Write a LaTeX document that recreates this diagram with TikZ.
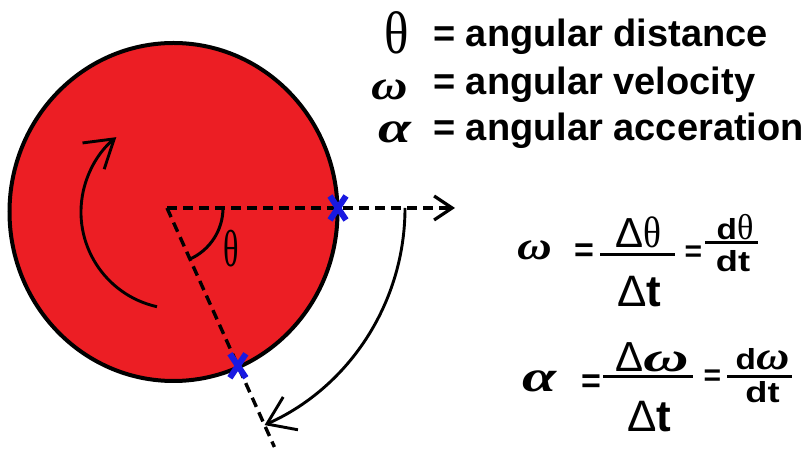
\documentclass[tikz,border=0pt]{standalone}
\usepackage{fontspec}
\setmainfont{Liberation Sans}
\newfontfamily\grk{Liberation Serif}
\usetikzlibrary{arrows.meta}
\definecolor{diskred}{RGB}{236,30,36}
\definecolor{xblue}{RGB}{25,25,225}
\newcommand\fs[1]{\fontsize{#1}{#1}\selectfont}
\newcommand\gth[1]{\scalebox{#1}[1]{\grk\mdseries θ}}
\newcommand\gom[1]{\scalebox{#1}[1]{\grk\bfseries\itshape ω}}
\newcommand\gal[1]{\scalebox{#1}[1]{\grk\bfseries\itshape α}}
\newcommand\Dl{{\mdseries Δ}}
\begin{document}
\begin{tikzpicture}[x=1pt,y=1pt,
  dline/.style={dash pattern=on 10pt off 6pt, line width=3.4pt},
  curv/.style={line width=2.9pt},
  bx/.style={draw=xblue, line width=6pt},
  bar/.style={line width=3pt},
  txt/.style={anchor=base west, inner sep=0pt, font=\fs{38}\bfseries},
  sym/.style={anchor=base, inner sep=0pt},
  eqs/.style={anchor=base, inner sep=0pt, font=\bfseries}
]
\useasboundingbox (0,0) rectangle (811,449);
% disk
\coordinate (C) at (173.5,237);
\fill[diskred, draw=black, line width=4pt] (C) ellipse [x radius=164, y radius=169];
% coordinates
\coordinate (O) at (167,241);
\coordinate (X1) at (338,241);
\coordinate (X2) at (237.9,83.2);
\coordinate (H) at (455,241);
\coordinate (S) at (274.4,2);
\coordinate (A0) at (405,241);
\coordinate (R0) at (157,142.3);
\coordinate (G0) at (223,241);
% dashed radii
\draw[dline] (O) -- (S);
\draw[dline, -{Straight Barb[length=18pt,width=24pt,line width=3.2pt]}] (O) -- (H);
% angle arc
\draw[line width=3pt] (G0) arc[start angle=0, end angle=-65.8, radius=56];
\node[sym, font=\fs{52}] (thl) at (231,182) {\gth{0.62}};
% outer arc
\draw[curv, -{Straight Barb[length=26pt,width=36pt]}] (A0) arc[start angle=0, end angle=-65.8, radius=238];
% rotation arrow
\draw[curv, -{Straight Barb[length=27pt,width=34pt]}] (R0) arc[start angle=257.5, end angle=129.5, radius=97];
% blue marks
\draw[bx, shift={(X1)}] (-8,-12) -- (8,12) (-8,12) -- (8,-12);
\draw[bx, shift={(X2)}] (-8,-12) -- (8,12) (-8,12) -- (8,-12);
% legend
\node[sym, font=\fs{60}] (s1) at (397,395) {\gth{0.85}};
\node[txt] (l1) at (433,402) {= angular distance};
\node[sym, font=\fs{42}] (s2) at (390,349) {\gom{1.2}};
\node[txt] (l2) at (433,354) {= angular velocity};
\node[sym, font=\fs{44}] (s3) at (395,306) {\gal{1.35}};
\node[txt] (l3) at (433,308) {= angular acceration};
% equation 1
\node[sym, font=\fs{40}] (w1) at (535,189) {\gom{1.2}};
\node[eqs, font=\fs{34}\bfseries] (e1a) at (584,187.5) {=};
\draw[bar] (600,194) -- (675,194);
\node[eqs, font=\fs{42}] (n1) at (638.5,201) {\Dl\fs{44}\gth{0.85}};
\node[eqs, font=\fs{44}\bfseries] (d1) at (639.5,142) {\Dl t};
\node[eqs, font=\fs{30}\bfseries] (e1b) at (693.5,187.5) {=};
\draw[bar] (705,206) -- (758,206);
\node[eqs, font=\fs{29}\bfseries] (n2) at (735,209) {\scalebox{1.15}[1]{d}\fs{36}\gth{0.95}};
\node[eqs, font=\fs{29}\bfseries] (d2) at (733,177) {\scalebox{1.25}[1]{dt}};
% equation 2
\node[sym, font=\fs{44}] (a2) at (540,57) {\gal{1.4}};
\node[eqs, font=\fs{34}\bfseries] (e2a) at (591,56) {=};
\draw[bar] (603,72) -- (693,72);
\node[eqs, font=\fs{42}] (n3) at (652.5,77) {\Dl\fs{42}\gom{1.5}};
\node[eqs, font=\fs{44}\bfseries] (d3) at (649.5,17) {\Dl t};
\node[eqs, font=\fs{30}\bfseries] (e2b) at (712.5,63) {=};
\draw[bar] (727,72) -- (792,72);
\node[eqs, font=\fs{29}\bfseries] (n4) at (762.5,79) {\scalebox{1.15}[1]{d}\fs{40}\gom{1.15}};
\node[eqs, font=\fs{29}\bfseries] (d4) at (762.5,46) {\scalebox{1.25}[1]{dt}};
\end{tikzpicture}
\end{document}
